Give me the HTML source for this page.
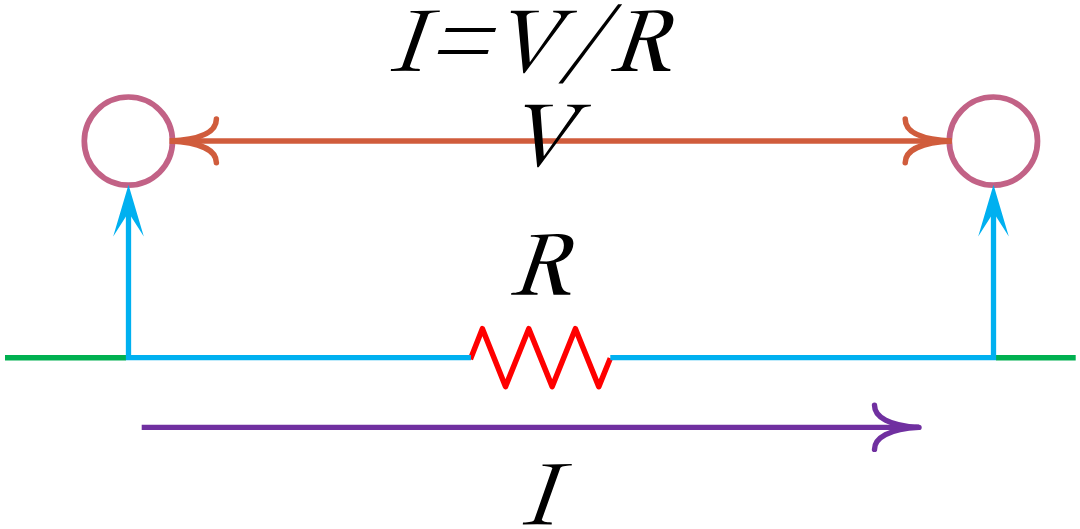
<!DOCTYPE html>
<html lang="en"><head><meta charset="utf-8">
<title>I=V/R — Ohm's law diagram: V, R, I</title>
<style>
html,body{margin:0;padding:0;background:#fff;font-family:"Liberation Serif",serif;width:1080px;height:529px;overflow:hidden;}
svg{display:block;}
</style></head>
<body>
<svg width="1080" height="529" viewBox="0 0 1080 529" role="img" aria-label="I=V/R; V; R; I">
<!-- green base line -->
<path d="M5 357.75 H126 M996 357.75 H1075.7" stroke="#00B050" stroke-width="5.5" fill="none"/>
<!-- resistor -->
<path d="M470.4 359.2 L482.4 328.7 L505.5 386.6 L528.8 328.7 L552.2 386.6 L575.4 328.7 L598.8 386.6 L610.3 358.2" stroke="#FF0000" stroke-width="5.5" fill="none" stroke-linejoin="round"/>
<!-- blue wires -->
<path d="M471 357.7 H128.5 V212" stroke="#00B0F0" stroke-width="5.3" fill="none" stroke-linejoin="miter"/>
<path d="M610.3 357.7 H993.5 V212" stroke="#00B0F0" stroke-width="5.3" fill="none" stroke-linejoin="miter"/>
<!-- circles -->
<circle cx="128.4" cy="141.1" r="44.1" stroke="#C26286" stroke-width="5.7" fill="none"/>
<circle cx="993.4" cy="141.1" r="44.1" stroke="#C26286" stroke-width="5.7" fill="none"/>
<!-- orange V arrow -->
<g stroke="#D05C3C" stroke-width="5.5" fill="none" stroke-linecap="round">
<path d="M169.5 141 H951.6" stroke-linecap="butt"/>
<path d="M216.4 119 C216.4 132.1 200 139.6 170 141 C200 142.4 216.4 150.1 216.4 162.7"/>
<path d="M905.2 119 C905.2 132.1 921.6 139.6 951.6 141 C921.6 142.4 905.2 150.1 905.2 162.7"/>
</g>
<!-- blue arrowheads -->
<path d="M128.5 184.7 L143.8 236.4 L128.5 212.6 L113.2 236.4 Z" fill="#00B0F0"/>
<path d="M993.5 184.7 L1008.8 236.4 L993.5 212.6 L978.2 236.4 Z" fill="#00B0F0"/>
<!-- purple I arrow -->
<g stroke="#7030A0" stroke-width="5.4" fill="none" stroke-linecap="round">
<path d="M141.7 427.4 H919" stroke-linecap="butt"/>
<path d="M916 427.4 H919"/>
<path d="M874.5 405.2 C874.5 416.8 889 426 919 427.4 C889 428.8 874.5 438 874.5 449.4"/>
</g>
<!-- text glyphs -->
<g fill="#000">
<path d="M410.5 10.9 Q425 11.0 439.8 10.6 L439.7 12.0 C433 12.3 429 12.8 428.3 14.5 L409.8 66.3 C410.4 68 413.5 68.7 419.8 69.0 L419.7 70.9 Q405 70.6 390.8 70.9 L391 69.1 C397.5 68.8 401.5 68.2 402.3 66.3 L420.4 14.6 C419.5 13.3 416 12.6 410.6 12.4 Z"/>
<path d="M446 27.9 L496.1 27.9 L494.9 32.1 L445 32.1 Z"/>
<path d="M438.7 49.9 L488.7 49.9 L487.6 53.9 L437.7 53.9 Z"/>
<path d="M510.9 10.8 Q525 10.65 538.9 10.75 L538.8 12.3 C530.5 12.5 526.8 13.4 526.5 16.8 L529.8 62.3 L561 17.5 C561.6 14 559 12.6 553.2 12.3 L553.2 10.75 Q565 10.65 577 10.75 L576.8 12.2 C571 12.5 568 13.8 566.3 17.3 L524.6 73.2 L523.2 73.2 L517.7 17 C517.3 13.9 514.8 13.1 510.8 12.9 Z"/>
<path d="M618.1 4.2 L622.2 4.2 L562.8 83.6 L558.4 83.6 Z"/>
<path fill-rule="evenodd" d="M630.9 11.5 L657 10.2 C668.5 9.9 673.6 13.5 673.4 19.8 C673.1 29.5 665.5 36.8 655.8 38.8 L661 60.5 C662.2 66 665 68.6 670.4 69 L670.3 71.1 L653.5 71.1 L646.8 40.3 L639.3 40 L630.3 65.6 C630.1 68 633.5 69 637.6 69.3 L637.5 71.1 L611.1 71.1 L611.3 69.3 C617.8 69 621.2 68 622.5 65.8 L639.8 15 C639.6 13.6 635.8 13.2 630.8 13.1 Z M648.5 12.8 L640 37.6 L646.5 37.7 C657 37.5 663.9 30.5 663.9 21.5 C663.9 15.5 660 12.4 653 12.5 Z"/>
<path transform="translate(14 94)" d="M510.9 10.8 Q525 10.65 538.9 10.75 L538.8 12.3 C530.5 12.5 526.8 13.4 526.5 16.8 L529.8 62.3 L561 17.5 C561.6 14 559 12.6 553.2 12.3 L553.2 10.75 Q565 10.65 577 10.75 L576.8 12.2 C571 12.5 568 13.8 566.3 17.3 L524.6 73.2 L523.2 73.2 L517.7 17 C517.3 13.9 514.8 13.1 510.8 12.9 Z"/>
<path transform="translate(-100 223.7)" fill-rule="evenodd" d="M630.9 11.5 L657 10.2 C668.5 9.9 673.6 13.5 673.4 19.8 C673.1 29.5 665.5 36.8 655.8 38.8 L661 60.5 C662.2 66 665 68.6 670.4 69 L670.3 71.1 L653.5 71.1 L646.8 40.3 L639.3 40 L630.3 65.6 C630.1 68 633.5 69 637.6 69.3 L637.5 71.1 L611.1 71.1 L611.3 69.3 C617.8 69 621.2 68 622.5 65.8 L639.8 15 C639.6 13.6 635.8 13.2 630.8 13.1 Z M648.5 12.8 L640 37.6 L646.5 37.7 C657 37.5 663.9 30.5 663.9 21.5 C663.9 15.5 660 12.4 653 12.5 Z"/>
<path transform="translate(132 453.5)" d="M410.5 10.9 Q425 11.0 439.8 10.6 L439.7 12.0 C433 12.3 429 12.8 428.3 14.5 L409.8 66.3 C410.4 68 413.5 68.7 419.8 69.0 L419.7 70.9 Q405 70.6 390.8 70.9 L391 69.1 C397.5 68.8 401.5 68.2 402.3 66.3 L420.4 14.6 C419.5 13.3 416 12.6 410.6 12.4 Z"/>
</g>
</svg>
</body></html>
